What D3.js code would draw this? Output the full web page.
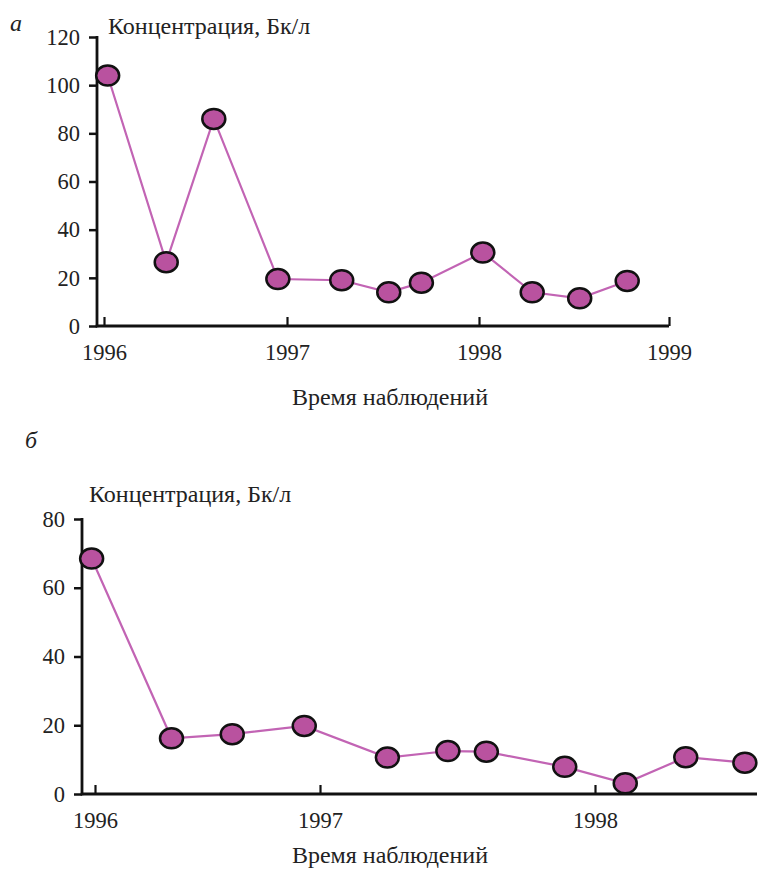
<!DOCTYPE html>
<html><head><meta charset="utf-8">
<script src="https://cdn.jsdelivr.net/npm/d3@7"></script>
<style>body{margin:0;background:#fff;}</style></head>
<body><svg id="c" width="758" height="872"></svg>
<script>
// Panel а
const yearsA = [1996.02, 1996.34, 1996.60, 1996.95, 1997.285, 1997.53, 1997.70, 1998.02, 1998.28, 1998.53, 1998.78];
const valuesA = [104, 26.5, 86, 19.5, 19, 14, 18, 30.5, 14, 11.5, 18.7];
const yTicksA = [0, 20, 40, 60, 80, 100, 120];
const xTicksA = [1996, 1997, 1998, 1999];
// Panel б
const yearsB = [1995.985, 1996.34, 1996.61, 1996.93, 1997.245, 1997.465, 1997.605, 1997.89, 1998.11, 1998.33, 1998.545];
const valuesB = [68.5, 16.2, 17.4, 19.8, 10.6, 12.5, 12.3, 7.9, 3.1, 10.7, 9.1];
const yTicksB = [0, 20, 40, 60, 80];
const xTicksB = [1996, 1997, 1998];
const yLabel = "Концентрация, Бк/л";
const xLabel = "Время наблюдений";

const FONT = "Liberation Serif";
const TXT = "#222";
const svg = d3.select("#c");
const lineColor = "#c264b4", dotFill = "#b9529f";

function styleText(sel, size){
  sel.attr("font-family", FONT).attr("font-size", size).attr("fill", TXT)
     .style("font-family", FONT).style("font-size", size + "px").style("fill", TXT);
}

function panel(o){
  const g = svg.append("g");
  const x = d3.scaleLinear().domain(o.xDom).range(o.xRange);
  const y = d3.scaleLinear().domain(o.yDom).range(o.yRange);
  // y axis
  const ya = g.append("g").attr("transform",`translate(${o.axX},0)`)
    .call(d3.axisLeft(y).tickValues(o.yTicks).tickSize(8).tickSizeOuter(0).tickPadding(9));
  ya.attr("font-family", FONT).attr("font-size", 22.5);
  ya.select(".domain").remove();
  ya.selectAll(".tick line").attr("stroke","#111").attr("stroke-width",2.5);
  styleText(ya.selectAll("text"), 22.5);
  // x axis (ticks inside)
  const xa = g.append("g").attr("transform",`translate(0,${y(0)})`)
    .call(d3.axisTop(x).tickValues(o.xTicks).tickSize(9).tickSizeOuter(0).tickFormat(d3.format("d")));
  xa.attr("font-family", FONT).attr("font-size", 22.5);
  xa.select(".domain").remove();
  xa.selectAll(".tick line").attr("stroke","#111").attr("stroke-width",2.2);
  styleText(xa.selectAll("text").attr("y",34).attr("dy",0), 22.5);
  // axis lines
  g.append("line").attr("x1",o.axX).attr("x2",o.axX).attr("y1",y(o.yDom[1])-1).attr("y2",y(0)+1.2)
    .attr("stroke","#111").attr("stroke-width",2.8);
  g.append("line").attr("x1",o.axX-1.2).attr("x2",o.xEnd).attr("y1",y(0)).attr("y2",y(0))
    .attr("stroke","#111").attr("stroke-width",2.8);
  // line
  const data = o.years.map((d,i)=>({x:d,v:o.values[i]}));
  g.append("path").datum(data).attr("fill","none").attr("stroke",lineColor).attr("stroke-width",2.2)
    .attr("d",d3.line().x(d=>x(d.x)).y(d=>y(d.v)));
  g.selectAll("ellipse").data(data).join("ellipse")
    .attr("cx",d=>x(d.x)).attr("cy",d=>y(d.v)).attr("rx",11.5).attr("ry",10)
    .attr("fill",dotFill).attr("stroke","#111").attr("stroke-width",2.5);
  // labels
  styleText(g.append("text").attr("x",o.ylx).attr("y",o.yly).text(yLabel), 24);
  styleText(g.append("text").attr("x",o.xlx).attr("y",o.xly).attr("text-anchor","middle").text(xLabel), 24);
  styleText(g.append("text").attr("x",o.lx).attr("y",o.ly).style("font-style","italic").text(o.letter), 24);
}

panel({xDom:[1996,1997,1998,1999], xRange:[104,287,479,669], yDom:[0,120], yRange:[326,37],
  axX:97, xEnd:669, years:yearsA, values:valuesA, yTicks:yTicksA, xTicks:xTicksA,
  ylx:108, yly:34, xlx:390, xly:405, letter:"а", lx:10, ly:31});
panel({xDom:[1996,1997,1998,1999], xRange:[95,320,595,870], yDom:[0,80], yRange:[794,519],
  axX:82, xEnd:757, years:yearsB, values:valuesB, yTicks:yTicksB, xTicks:xTicksB,
  ylx:89, yly:502, xlx:390, xly:863, letter:"б", lx:25, ly:448});
</script></body></html>
